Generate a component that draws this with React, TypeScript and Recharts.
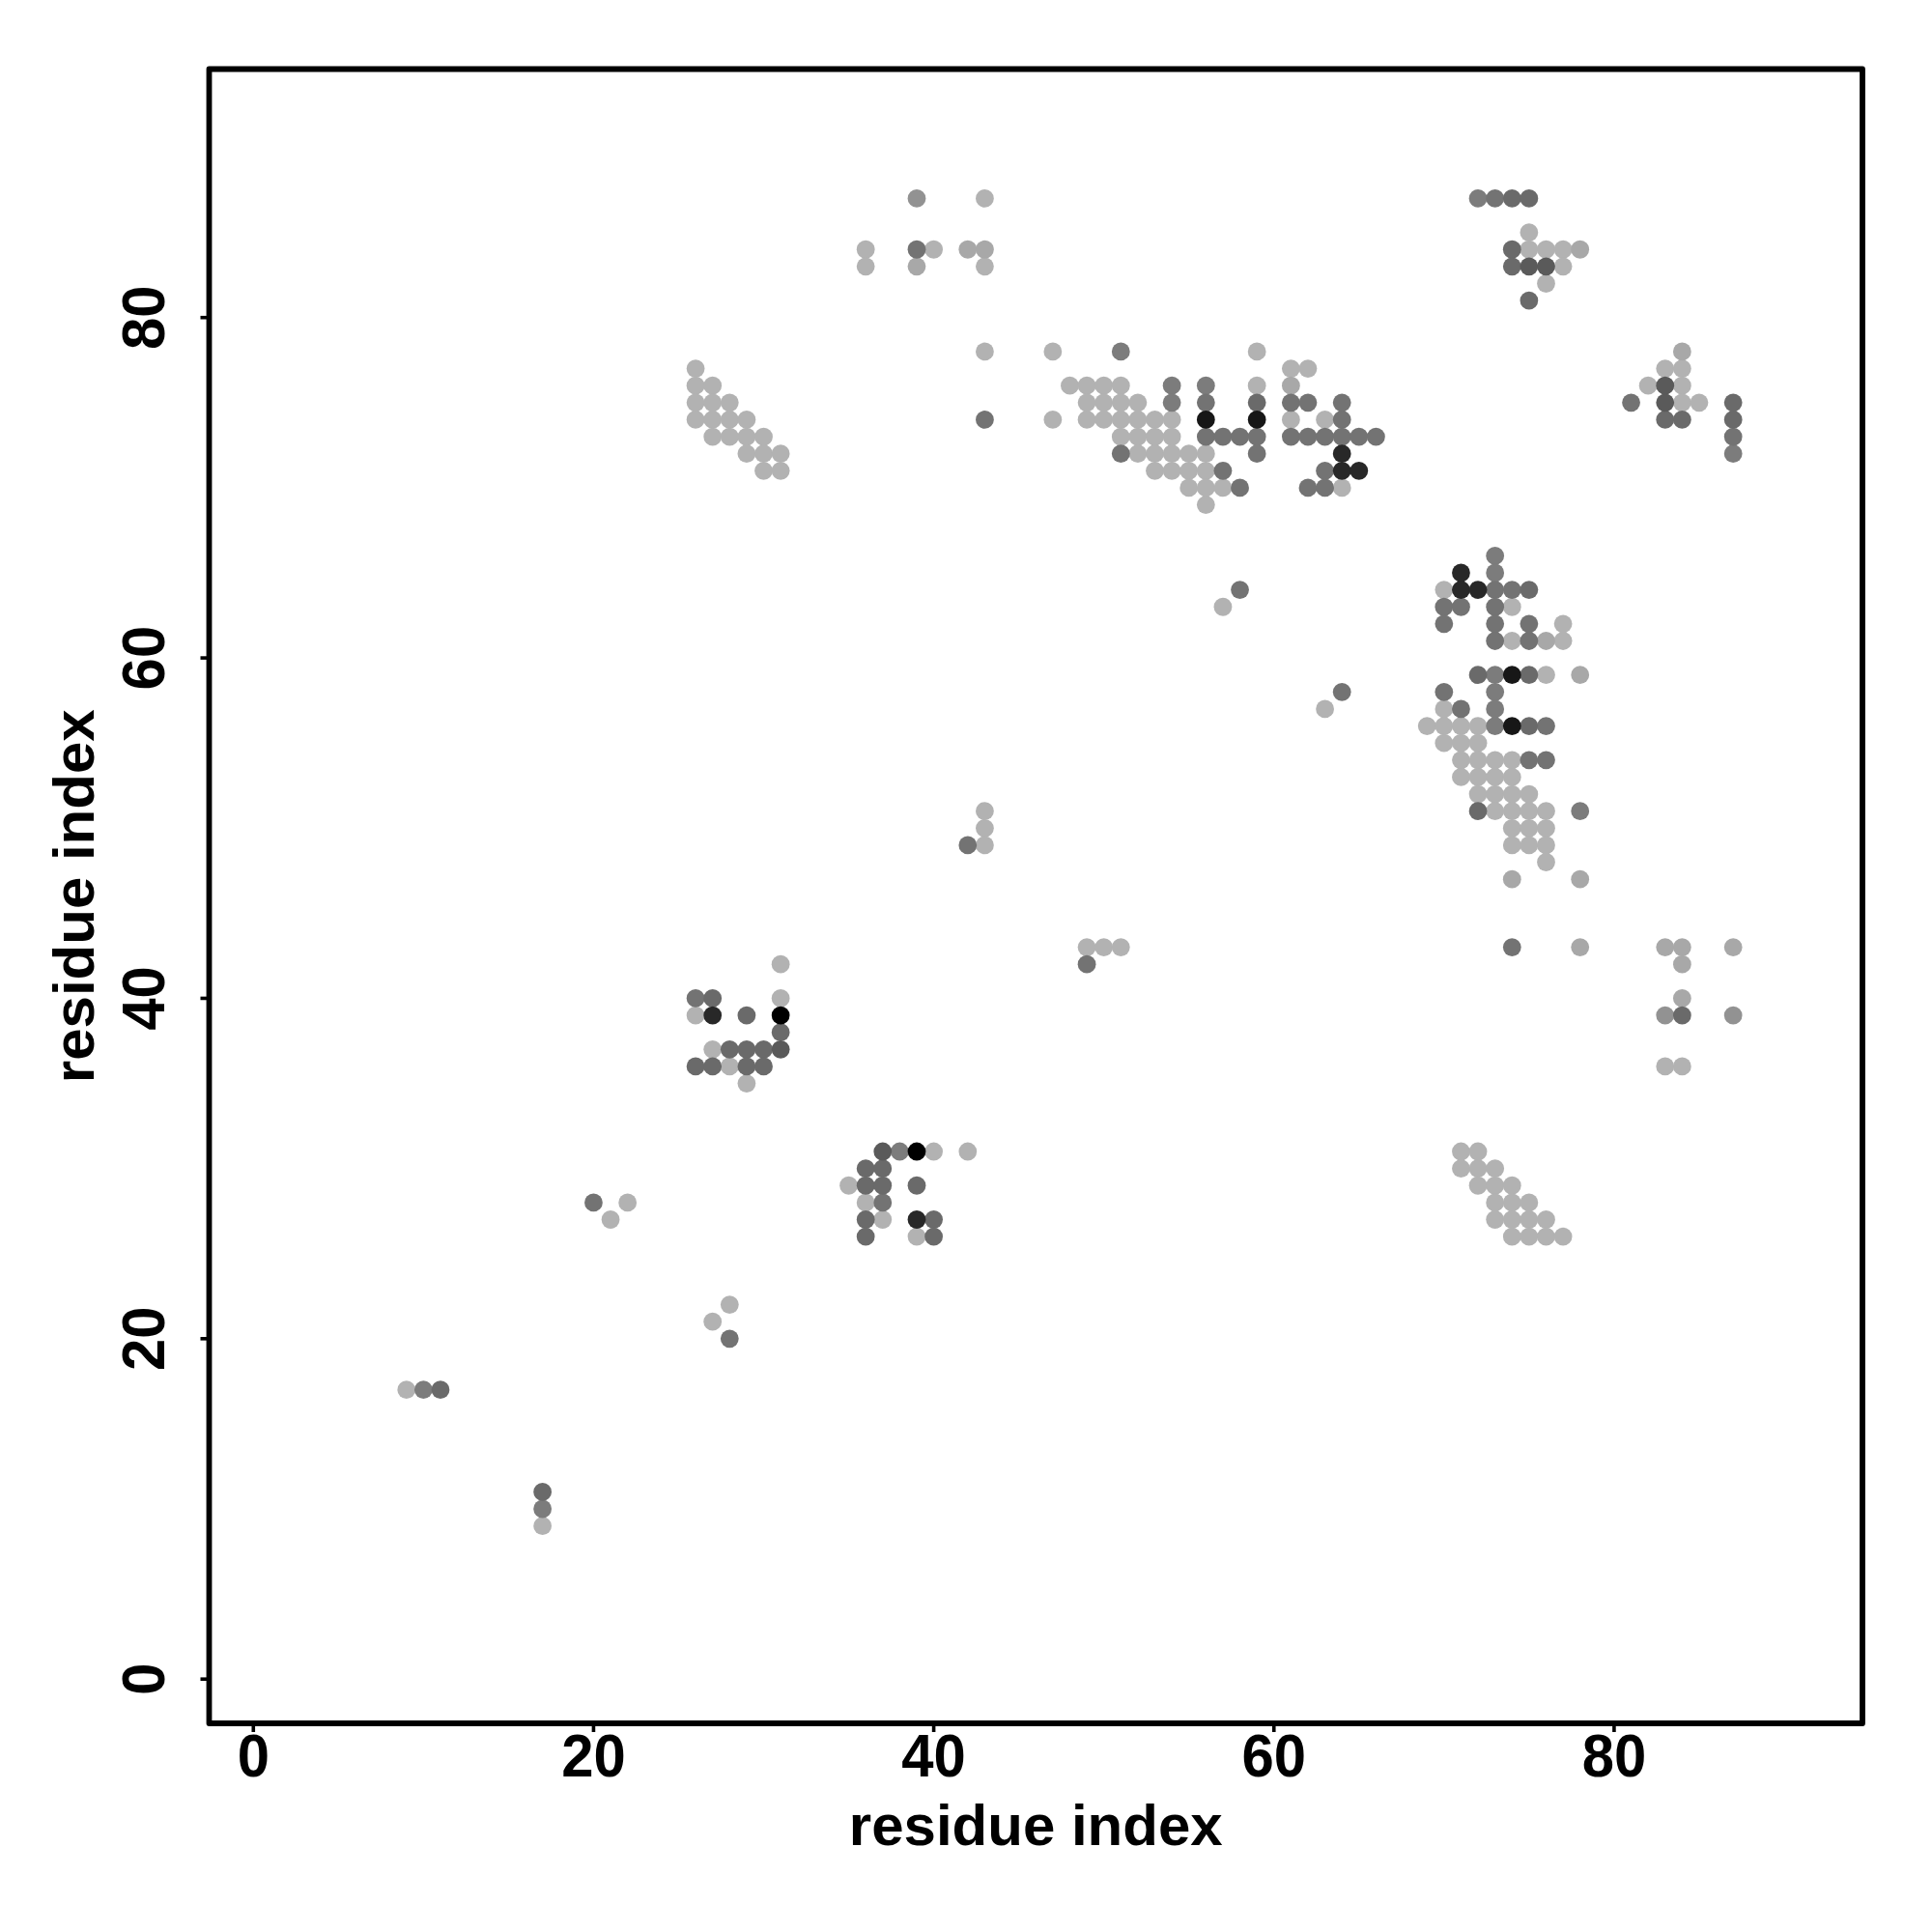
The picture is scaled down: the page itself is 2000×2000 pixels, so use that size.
import { Label, ReferenceArea, Scatter, ScatterChart, XAxis, YAxis } from "recharts";

const axisDomain = [-2.6, 94.6];
const tickValues = [0, 20, 40, 60, 80];
const axisTitle = "residue index";

// contacts grouped by how dark the dot is, [residue x, residue y]
const lightest = [
  [43, 87], [36, 84], [40, 84], [36, 83], [43, 83], [43, 78], [47, 78], [59, 78], [61, 77], [62, 77],
  [48, 76], [49, 76], [50, 76], [51, 76], [59, 76], [49, 75], [50, 75], [51, 75], [52, 75],
  [47, 74], [49, 74], [50, 74], [51, 74], [52, 74], [53, 74], [54, 74], [61, 74], [63, 74],
  [51, 73], [52, 73], [53, 73], [54, 73], [52, 72], [53, 72], [54, 72], [55, 72], [56, 72],
  [53, 71], [54, 71], [55, 71], [56, 71], [55, 70], [56, 70], [57, 70], [64, 70], [56, 69],
  [75, 85], [75, 84], [76, 84], [77, 84], [77, 83], [76, 82], [83, 77], [84, 77], [82, 76], [84, 76], [84, 75], [85, 75],
  [26, 77], [26, 76], [27, 76], [26, 75], [27, 75], [28, 75], [26, 74], [27, 74], [28, 74], [29, 74],
  [27, 73], [28, 73], [29, 73], [30, 73], [29, 72], [30, 72], [31, 72], [30, 71], [31, 71],
  [70, 64], [74, 63], [77, 62], [74, 61], [77, 61], [76, 59], [70, 57], [69, 56], [70, 56], [71, 56], [72, 56],
  [70, 55], [71, 55], [72, 55], [71, 54], [72, 54], [73, 54], [74, 54], [71, 53], [72, 53], [73, 53], [74, 53],
  [72, 52], [73, 52], [74, 52], [75, 52], [73, 51], [74, 51], [75, 51], [76, 51], [74, 50], [75, 50], [76, 50],
  [74, 49], [75, 49], [76, 49], [76, 48], [57, 63], [63, 57], [43, 51], [43, 50], [43, 49],
  [49, 43], [50, 43], [51, 43], [83, 36], [84, 36], [31, 42], [31, 40], [26, 39], [27, 37], [28, 36], [29, 35],
  [40, 31], [42, 31], [35, 29], [36, 28], [37, 27], [39, 26], [71, 31], [72, 31], [71, 30], [72, 30], [73, 30],
  [72, 29], [73, 29], [74, 29], [73, 28], [74, 28], [75, 28], [73, 27], [74, 27], [75, 27], [76, 27],
  [74, 26], [75, 26], [76, 26], [77, 26], [21, 27], [22, 28], [27, 21], [28, 22], [9, 17], [17, 9],
];
const pale = [
  [42, 84], [43, 84], [39, 83], [61, 76], [78, 84], [84, 78], [76, 61], [78, 59], [74, 47], [78, 47],
  [78, 43], [83, 43], [84, 43], [87, 43], [84, 42], [84, 40],
];
const midLight = [[39, 87], [83, 39], [87, 39]];
const midGrey = [
  [51, 78], [54, 76], [54, 75], [56, 76], [73, 66], [73, 65], [73, 59], [73, 58], [73, 57], [73, 56],
  [78, 51], [10, 17], [17, 10], [87, 72], [72, 87], [38, 31],
];
const grey = [
  [39, 84], [56, 75], [61, 75], [62, 75], [64, 75], [43, 74], [64, 74], [56, 73], [57, 73], [58, 73], [59, 73],
  [61, 73], [62, 73], [63, 73], [64, 73], [65, 73], [66, 73], [51, 72], [59, 72], [57, 71], [63, 71],
  [58, 70], [62, 70], [63, 70], [73, 87], [73, 64], [74, 64], [70, 63], [71, 63], [73, 63], [70, 62],
  [73, 62], [75, 62], [73, 61], [75, 61], [70, 58], [71, 57], [76, 56], [75, 54], [76, 54], [64, 58],
  [58, 64], [42, 49], [49, 42], [74, 43], [20, 28], [28, 20], [26, 40], [37, 28], [87, 73], [81, 75],
];
const darkGrey = [
  [59, 75], [74, 87], [75, 87], [74, 84], [74, 83], [75, 81], [87, 75], [87, 74], [83, 74], [84, 74],
  [75, 64], [72, 59], [75, 59], [75, 56], [72, 51], [84, 39], [11, 17], [17, 11], [27, 40], [29, 39],
  [31, 38], [28, 37], [29, 37], [30, 37], [26, 36], [27, 36], [29, 36], [30, 36], [36, 30], [37, 30],
  [36, 29], [37, 29], [39, 29], [36, 27], [40, 27], [36, 26], [40, 26],
];
const darker = [[75, 83], [76, 83], [83, 76], [83, 75], [31, 37], [37, 31]];
const nearBlack = [[64, 72], [64, 71], [65, 71], [71, 65], [71, 64], [72, 64], [27, 39], [39, 27]];
const almostBlack = [[56, 74], [59, 74], [74, 59], [74, 56]];
const black = [[31, 39], [39, 31]];

const shades: [number[][], string][] = [
  [lightest, "#b2b2b2"],
  [pale, "#a8a8a8"],
  [midLight, "#929292"],
  [midGrey, "#7c7c7c"],
  [grey, "#737373"],
  [darkGrey, "#6a6a6a"],
  [darker, "#5a5a5a"],
  [nearBlack, "#282828"],
  [almostBlack, "#171717"],
  [black, "#000000"],
];

const font = { fontFamily: "'Liberation Sans', Arial, sans-serif", fontWeight: 700, fontSize: 60, fill: "#000" };
const tickFont = { ...font, fontSize: 63 };

const XTick = ({ x, y, payload }: any) => (
  <text transform={`translate(${x},${y + 44}) scale(0.95,1)`} textAnchor="middle" {...tickFont}>{payload.value}</text>
);

const YTick = ({ x, y, payload }: any) => (
  <text transform={`translate(${x - 36},${y}) rotate(-90) scale(0.95,1)`} textAnchor="middle" {...tickFont}>{payload.value}</text>
);

const App = () => {
  return (
    <div style={{ position: "absolute", left: 0, top: 0 }}>
      <ScatterChart
        width={2000}
        height={2000}
        margin={{ top: 71.5, right: 72, left: 0, bottom: 0 }}
      >
        <XAxis
          type="number"
          dataKey="x"
          domain={axisDomain}
          ticks={tickValues}
          allowDataOverflow
          height={216}
          axisLine={false}
          tickLine={{ stroke: "#000", strokeWidth: 3.6 }}
          tickSize={9}
          tick={<XTick />}
          interval={0}
        >
          <Label value={axisTitle} position="insideBottom" offset={90} style={font} />
        </XAxis>
        <YAxis
          type="number"
          dataKey="y"
          domain={axisDomain}
          ticks={tickValues}
          allowDataOverflow
          width={216.5}
          axisLine={false}
          tickLine={{ stroke: "#000", strokeWidth: 3.6 }}
          tickSize={9}
          tick={<YTick />}
          interval={0}
        >
          <Label value={axisTitle} angle={-90} position="insideLeft" offset={76} style={{ ...font, textAnchor: "middle" }} />
        </YAxis>
        <ReferenceArea
          x1={axisDomain[0]}
          x2={axisDomain[1]}
          y1={axisDomain[0]}
          y2={axisDomain[1]}
          fill="none"
          stroke="#000"
          strokeWidth={5.8}
          strokeLinejoin="round"
          ifOverflow="visible"
        />
        {shades.map(([pairs, colour]) => (
          <Scatter
            key={colour}
            data={pairs.map(([x, y]) => ({ x, y }))}
            isAnimationActive={false}
            shape={(p: any) => <circle cx={p.cx} cy={p.cy} r={9.4} fill={colour} />}
          />
        ))}
      </ScatterChart>
    </div>
  );
};

export default App;
